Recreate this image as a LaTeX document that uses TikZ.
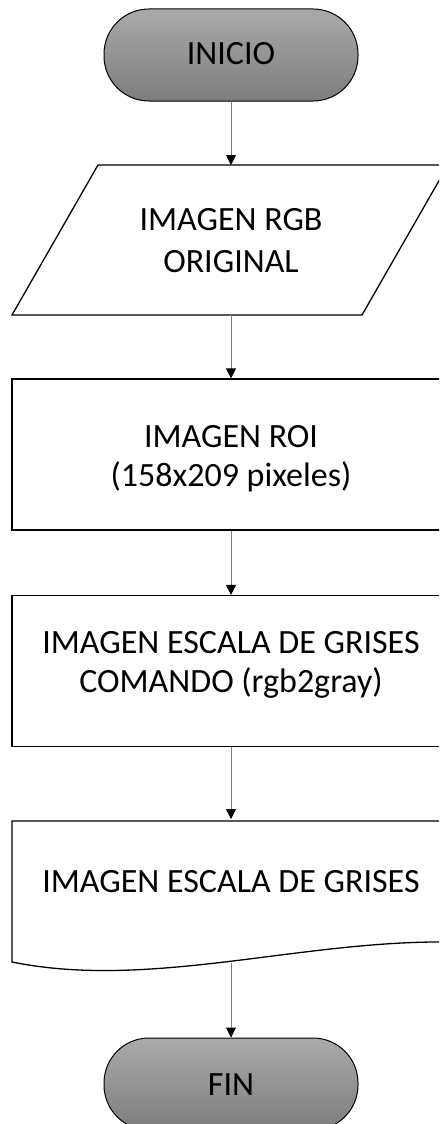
\documentclass[tikz,border=0pt]{standalone}
\usepackage{fontspec}
\setmainfont{Carlito}
\usetikzlibrary{arrows.meta}
\definecolor{termtop}{RGB}{170,170,170}
\definecolor{termbot}{RGB}{125,125,125}
\definecolor{linegray}{RGB}{128,128,128}
\tikzset{
  lbl/.style={font=\fontsize{34}{39}\selectfont, align=center, text=black, inner sep=0pt},
  terminal/.style={draw=black, line width=1pt, rounded corners=45pt, minimum width=254pt, minimum height=92pt, inner sep=0pt, top color=termtop, bottom color=termbot},
  procbox/.style={draw=black, line width=1.3pt, minimum width=438pt, minimum height=151pt, inner sep=0pt, fill=white},
  shapeline/.style={draw=black, line width=1.3pt, fill=white},
  conn/.style={draw=linegray, line width=1pt, -{Triangle[black, width=10pt, length=10pt]}}
}
\begin{document}
\begin{tikzpicture}[x=1pt, y=-1pt]
\useasboundingbox (0,0) rectangle (439,1124);
\clip (0,0) rectangle (439,1124);
% INICIO
\node[terminal] (inicio) at (231,55) {};
\node[lbl] (tinicio) at (231,54) {INICIO};
% Parallelogram
\path[shapeline] (98,165) -- (448,165) -- (362,315) -- (12,315) -- cycle;
\coordinate (ptop) at (231,165);
\coordinate (pbot) at (231,315);
\node[lbl, font=\fontsize{34}{42}\selectfont] (tpar) at (231,240.5) {IMAGEN RGB\\ORIGINAL};
% ROI
\node[procbox] (roi) at (231,454.5) {};
\node[lbl] (troi) at (231,458.5) {IMAGEN ROI\\(158x209 pixeles)};
% Gray
\node[procbox] (gray) at (231,671) {};
\node[lbl] (tgray) at (231,664.5) {IMAGEN ESCALA DE GRISES\\COMANDO (rgb2gray)};
% Document
\path[shapeline] (12,821) -- (450,821) -- (450,942) .. controls (300,940) and (150,990) .. (12,962) -- cycle;
\coordinate (dtop) at (231,821);
\coordinate (dbot) at (231,963);
\node[lbl] (tdoc) at (231,882) {IMAGEN ESCALA DE GRISES};
% FIN
\node[terminal] (fin) at (231,1084) {};
\node[lbl] (tfin) at (231,1085) {FIN};
% connectors
\draw[conn] (inicio.south) -- (ptop);
\draw[conn] (pbot) -- (roi.north);
\draw[conn] (roi.south) -- (gray.north);
\draw[conn] (gray.south) -- ([yshift=2pt]dtop);
\draw[conn] (dbot) -- (fin.north);
\end{tikzpicture}
\end{document}
